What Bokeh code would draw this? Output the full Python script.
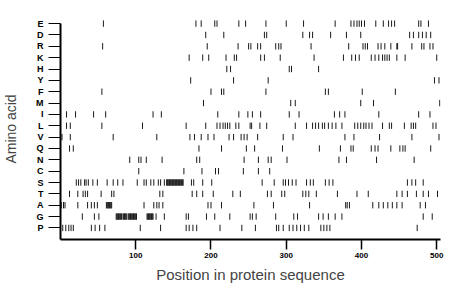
from bokeh.plotting import figure
from bokeh.models import Range1d, FixedTicker, ColumnDataSource
from bokeh.embed import file_html
from bokeh.resources import INLINE

# amino acids, bottom (0) to top (18)
amino_acids = ["P", "G", "A", "T", "S", "C", "N", "Q", "V", "L",
               "I", "M", "F", "Y", "H", "K", "R", "D", "E"]

pos_E = [57, 180, 187, 205, 208, 237, 246, 273, 300, 323, 365, 386, 390, 394, 397, 400,
         404, 419, 429, 436, 440, 444, 476, 479, 489]
pos_D = [193, 217, 271, 274, 322, 331, 335, 359, 380, 399, 464, 469, 476, 481, 486, 492]
pos_R = [56, 195, 236, 250, 253, 262, 266, 286, 290, 293, 333, 383, 402, 405, 408, 422,
         426, 431, 439, 447, 448, 467, 480, 483, 491, 495]
pos_K = [171, 189, 197, 220, 231, 234, 266, 271, 292, 337, 376, 387, 392, 397, 413, 418,
         423, 428, 431, 434, 437, 447, 458, 500]
pos_H = [221, 226, 304, 307, 343]
pos_Y = [173, 230, 276, 497, 503]
pos_F = [55, 200, 214, 217, 273, 352, 356, 401, 445]
pos_M = [190, 306, 312, 399, 416, 504]
pos_I = [8, 20, 44, 60, 123, 134, 209, 237, 249, 255, 266, 304, 317, 364, 371, 378, 423,
         476, 491]
pos_L = [8, 13, 55, 109, 167, 193, 208, 212, 216, 219, 222, 225, 233, 237, 252, 254, 265,
         274, 312, 327, 335, 339, 343, 348, 351, 356, 361, 366, 374, 391, 395, 399, 403,
         406, 410, 414, 428, 437, 440, 457, 466, 469, 472, 495, 499]
pos_V = [2, 13, 70, 128, 172, 178, 187, 196, 204, 224, 230, 240, 244, 248, 262, 296, 309,
         378, 390, 424, 467, 503]
pos_Q = [12, 17, 184, 214, 247, 258, 295, 344, 372, 386, 389, 413, 418, 422, 439, 451,
         455, 458, 492]
pos_N = [92, 104, 107, 114, 135, 181, 185, 244, 263, 276, 280, 301, 370, 380, 420, 470]
pos_C = [104, 164, 188, 206, 210, 243, 263, 278]
pos_S = [21, 24, 27, 32, 34, 37, 43, 49, 62, 70, 76, 83, 102, 111, 114, 120, 124, 130,
         133, 138, 141, 142, 143, 144, 145, 146, 147, 148, 149, 150, 151, 152, 153, 154,
         155, 156, 157, 158, 159, 160, 161, 162, 163, 174, 177, 189, 201, 268, 284, 296,
         299, 303, 308, 313, 327, 332, 336, 352, 357, 362, 461, 467, 472, 482]
pos_T = [12, 23, 30, 33, 36, 54, 68, 71, 132, 136, 175, 181, 189, 203, 229, 239, 275,
         280, 294, 298, 322, 326, 330, 340, 368, 394, 409, 447, 454, 461, 473, 482, 489,
         501]
pos_A = [1, 4, 6, 23, 36, 41, 45, 49, 61, 62, 63, 64, 65, 66, 67, 68, 111, 124, 128,
         131, 136, 196, 200, 214, 257, 283, 331, 379, 381, 384, 415, 423, 429, 435, 441,
         447, 454, 478, 485]
pos_G = [29, 45, 51, 74, 75, 76, 77, 78, 79, 80, 81, 83, 84, 85, 86, 87, 88, 90, 91, 92,
         93, 94, 95, 96, 97, 98, 99, 100, 101, 115, 116, 117, 118, 119, 120, 121, 122,
         123, 127, 138, 167, 170, 194, 205, 225, 252, 255, 260, 286, 310, 315, 343, 349,
         356, 365, 374, 482, 494]
pos_P = [3, 7, 11, 14, 17, 41, 46, 52, 59, 106, 133, 167, 171, 176, 181, 212, 241, 259,
         287, 290, 296, 304, 309, 314, 319, 324, 330, 346, 350, 354, 358, 474]

x_ticks = [100, 200, 300, 400, 500]
seq_length = 505

positions = {"E": pos_E, "D": pos_D, "R": pos_R, "K": pos_K, "H": pos_H, "Y": pos_Y,
             "F": pos_F, "M": pos_M, "I": pos_I, "L": pos_L, "V": pos_V, "Q": pos_Q,
             "N": pos_N, "C": pos_C, "S": pos_S, "T": pos_T, "A": pos_A, "G": pos_G,
             "P": pos_P}

xs, ys = [], []
for i, aa in enumerate(amino_acids):
    for x in positions[aa]:
        xs.append(x)
        ys.append(i)
src = ColumnDataSource(dict(x=xs, y0=[y - 0.28 for y in ys], y1=[y + 0.28 for y in ys]))

p = figure(width=452, height=291, output_backend="svg", toolbar_location=None,
           x_range=Range1d(0, seq_length), y_range=Range1d(-1.02, 18.45),
           min_border_left=58, min_border_right=12, min_border_top=18,
           min_border_bottom=52)
p.segment(x0="x", y0="y0", x1="x", y1="y1", source=src, line_color="#1a1a1a",
          line_width=1)

p.grid.visible = False
p.outline_line_color = None
p.background_fill_color = "white"

font = "Liberation Sans"
# x axis
xa = p.xaxis[0]
xa.ticker = FixedTicker(ticks=x_ticks)
xa.bounds = (0, seq_length)
xa.axis_line_width = 2
xa.axis_line_color = "black"
xa.major_tick_out = 10
xa.major_tick_in = 0
xa.major_tick_line_width = 1.5
xa.minor_tick_line_color = None
xa.major_label_standoff = 3
xa.major_label_text_font = font
xa.major_label_text_font_size = "8px"
xa.major_label_text_font_style = "bold"
xa.major_label_text_color = "black"
xa.axis_label = "Position in protein sequence"
xa.axis_label_text_font = font
xa.axis_label_text_font_size = "15px"
xa.axis_label_text_font_style = "normal"
xa.axis_label_standoff = 5

# y axis
ya = p.yaxis[0]
ya.ticker = FixedTicker(ticks=list(range(len(amino_acids))))
ya.major_label_overrides = {i: aa for i, aa in enumerate(amino_acids)}
ya.bounds = (-1.02, 18)
ya.axis_line_width = 2
ya.axis_line_color = "black"
ya.major_tick_out = 12
ya.major_tick_in = 0
ya.major_tick_line_width = 1
ya.minor_tick_line_color = None
ya.major_label_standoff = 5
ya.major_label_text_font = font
ya.major_label_text_font_size = "9px"
ya.major_label_text_font_style = "bold"
ya.major_label_text_color = "black"
ya.axis_label = "Amino acid"
ya.axis_label_text_font = font
ya.axis_label_text_font_size = "14px"
ya.axis_label_text_font_style = "normal"
ya.axis_label_standoff = 14

open("out.html", "w").write(file_html(p, INLINE))
